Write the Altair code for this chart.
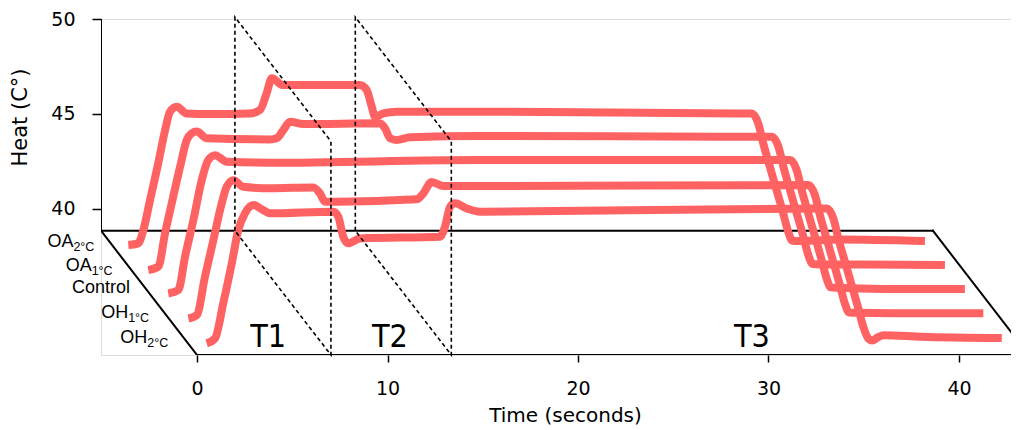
import altair as alt
import pandas as pd

# ---------------- data ----------------
SERIES = ["OA2", "OA1", "Control", "OH1", "OH2"]
DEPTH = [0.1, 0.3, 0.5, 0.7, 0.9]          # position across the floor (back -> front)

OA2_T = [0.93, 1.45, 1.72, 2.07, 2.50, 2.86, 3.12, 3.47, 3.99, 5.22,
         7.32, 7.84, 8.19, 8.46, 9.05, 10.82, 13.09, 13.44, 13.71, 13.88,
         14.32, 15.02, 19.39, 33.04, 33.65, 34.00, 34.26, 34.61, 34.96, 35.31,
         35.57, 35.79, 36.19, 38.29, 42.75]
OA2_H = [38.74, 38.83, 39.53, 41.11, 43.05, 44.80, 45.77, 46.03, 45.68, 45.65,
         45.68, 45.86, 46.74, 47.53, 47.17, 47.17, 47.17, 46.91, 46.03, 45.50,
         45.68, 45.77, 45.77, 45.68, 45.68, 45.15, 44.10, 42.86, 41.64, 40.41,
         39.44, 38.97, 38.95, 39.03, 38.95]

OA1_T = [0.97, 1.50, 1.85, 2.20, 2.64, 2.99, 3.25, 3.51, 4.04, 7.36,
         7.71, 8.06, 8.41, 9.11, 13.13, 13.40, 13.66, 14.01, 14.71, 18.38,
         32.03, 33.70, 34.05, 34.31, 34.66, 35.01, 35.36, 35.62, 35.84, 36.24,
         38.50, 42.79]
OA1_H = [38.73, 38.91, 40.67, 42.25, 44.18, 45.59, 45.94, 46.03, 45.68, 45.62,
         45.68, 46.11, 46.55, 46.43, 46.47, 46.20, 45.68, 45.59, 45.73, 45.80,
         45.76, 45.76, 45.23, 44.18, 42.94, 41.72, 40.49, 39.52, 39.05, 39.03,
         39.03, 39.00]

CTRL_T = [1.01, 1.54, 1.89, 2.33, 2.77, 3.11, 3.46, 4.08, 6.35, 17.38,
          33.65, 34.00, 34.26, 34.61, 34.96, 35.31, 35.57, 35.79, 36.19, 38.50,
          42.83]
CTRL_H = [38.81, 38.99, 40.74, 42.68, 44.79, 45.84, 46.10, 45.75, 45.70, 45.84,
          45.84, 45.31, 44.26, 43.02, 41.80, 40.57, 39.60, 39.13, 39.11, 39.05,
          39.04]

OH1_T = [1.06, 1.50, 1.93, 2.37, 2.81, 3.07, 3.42, 3.94, 5.34, 7.62,
         7.97, 8.23, 8.85, 13.04, 13.39, 13.83, 14.44, 16.37, 33.60, 33.95,
         34.21, 34.56, 34.91, 35.26, 35.52, 35.74, 36.14, 38.50, 42.79]
OH1_H = [38.80, 38.98, 41.00, 42.93, 44.87, 45.74, 46.09, 45.74, 45.66, 45.71,
         45.39, 44.95, 44.95, 45.08, 45.39, 46.00, 45.78, 45.78, 45.83, 45.30,
         44.25, 43.01, 41.79, 40.56, 39.59, 39.12, 39.10, 39.08, 39.08]

OH2_T = [1.01, 1.45, 1.88, 2.33, 2.67, 3.02, 3.46, 3.98, 4.34, 7.66,
         7.92, 8.18, 8.45, 9.06, 13.26, 13.52, 13.79, 14.05, 14.66, 15.36,
         33.56, 33.91, 34.17, 34.52, 34.87, 35.22, 35.48, 35.75, 35.95, 36.25,
         36.55, 38.50, 42.75]
OH2_H = [38.80, 39.06, 40.91, 43.02, 44.77, 45.65, 46.09, 45.82, 45.65, 45.74,
         45.47, 44.42, 44.07, 44.33, 44.42, 44.94, 46.00, 46.18, 45.91, 45.74,
         45.91, 45.38, 44.33, 43.09, 41.87, 40.64, 39.67, 39.05, 38.95, 39.12,
         39.22, 39.15, 39.08]

TIMES = [OA2_T, OA1_T, CTRL_T, OH1_T, OH2_T]
HEATS = [OA2_H, OA1_H, CTRL_H, OH1_H, OH2_H]

LABEL_MAIN = ["OA", "OA", "Control", "OH", "OH"]
LABEL_SUB = ["2°C", "1°C", "", "1°C", "2°C"]
LABEL_DEPTH = [0.09, 0.28, 0.46, 0.66, 0.86]
LABEL_T = -0.8

PHASE_NAMES = ["T1", "T2", "T3"]
PHASE_LABEL_T = [3.73, 10.13, 29.13]
PHASE_LABEL_H = 39.24
PHASE_BOUNDS = [7.03, 13.35]
BOUND_TOP = 50.1

X_TICKS = [0, 10, 20, 30, 40]
Y_TICKS = [40, 45, 50]

FLOOR_H = 38.84      # heat level of the floor
T_END = 43.67        # time length of the floor
SHIFT_T = 5.04       # horizontal shift (s) from back to front of the floor
SHIFT_H = 6.55       # vertical shift (°C) from back to front of the floor
X_DOMAIN = [-5.04, 42.73]
Y_DOMAIN = [32.29, 50]

LINE_COLOR = "#FF6262"


def px(t, f):
    return t - SHIFT_T * (1 - f)


def py(h, f):
    return h - SHIFT_H * f


# ---------------- tables ----------------
rows = []
for name, f, ts, hs in zip(SERIES, DEPTH, TIMES, HEATS):
    for i, (t, h) in enumerate(zip(ts, hs)):
        rows.append({"series": name, "i": i, "X": px(t, f), "Y": py(h, f)})
lines_df = pd.DataFrame(rows)

# y-axis line and the four edges of the floor, one segment each: (t, f, h)
EDGES = [
    [(0, 0, 50), (0, 0, FLOOR_H)],
    [(0, 0, FLOOR_H), (T_END, 0, FLOOR_H)],
    [(T_END, 0, FLOOR_H), (T_END, 1, FLOOR_H)],
    [(0, 1, FLOOR_H), (T_END, 1, FLOOR_H)],
    [(0, 0, FLOOR_H), (0, 1, FLOOR_H)],
]
floor_rows = []
for g, seg in enumerate(EDGES):
    for i, (t, f, h) in enumerate(seg):
        floor_rows.append({"g": g, "i": i, "X": px(t, f), "Y": py(h, f)})
floor_df = pd.DataFrame(floor_rows)

bound_rows = []
for b, tb in enumerate(PHASE_BOUNDS):
    pts = [(0, FLOOR_H), (0, BOUND_TOP), (1, BOUND_TOP), (1, FLOOR_H), (0, FLOOR_H)]
    for i, (f, h) in enumerate(pts):
        bound_rows.append({"g": b, "i": i, "X": px(tb, f), "Y": py(h, f)})
bound_df = pd.DataFrame(bound_rows)

label_df = pd.DataFrame({
    "main": LABEL_MAIN,
    "sub": LABEL_SUB,
    "X": [px(LABEL_T, f) for f in LABEL_DEPTH],
    "Y": [py(FLOOR_H, f) for f in LABEL_DEPTH],
})

phase_df = pd.DataFrame({
    "name": PHASE_NAMES,
    "X": [px(t, 1) for t in PHASE_LABEL_T],
    "Y": [py(PHASE_LABEL_H, 1) for _ in PHASE_LABEL_T],
})

# ---------------- encodings ----------------
x_enc = alt.X(
    "X:Q",
    scale=alt.Scale(domain=X_DOMAIN, nice=False, zero=False),
    axis=alt.Axis(
        values=X_TICKS, domain=False, grid=False, tickSize=7, tickWidth=1.5,
        tickColor="black", labelFont="DejaVu Sans", labelFontSize=19,
        labelColor="black", labelPadding=17, labelFlush=False,
        title="Time (seconds)", titleFont="DejaVu Sans", titleFontSize=20,
        titleFontWeight="normal", titleColor="black", titleX=464, titleY=60,
        titleBaseline="middle", titleAlign="center",
    ),
)
y_enc = alt.Y(
    "Y:Q",
    scale=alt.Scale(domain=Y_DOMAIN, nice=False, zero=False),
    axis=alt.Axis(
        values=Y_TICKS, domain=False, grid=False, tickSize=9, tickWidth=1.5,
        tickColor="black", labelFont="DejaVu Sans", labelFontSize=19,
        labelColor="black", labelPadding=17, labelFlush=False,
        title="Heat (C°)", titleFont="DejaVu Sans", titleFontSize=21,
        titleFontWeight="normal", titleColor="black", titleX=-81, titleY=98,
        titleBaseline="middle", titleAlign="center",
    ),
)

floor = alt.Chart(floor_df).mark_line(
    color="black", strokeWidth=2, strokeCap="square", clip=True
).encode(x=x_enc, y=y_enc, detail="g:N", order="i:Q")

lines = alt.Chart(lines_df).mark_line(
    color=LINE_COLOR, strokeWidth=8, interpolate="monotone",
    strokeCap="butt", strokeJoin="round"
).encode(x=x_enc, y=y_enc, detail="series:N", order="i:Q")

bounds = alt.Chart(bound_df).mark_line(
    color="black", strokeWidth=1.6, strokeDash=[4, 3]
).encode(x=x_enc, y=y_enc, detail="g:N", order="i:Q")

main_labels = alt.Chart(label_df).transform_filter(
    "datum.sub != ''"
).mark_text(
    align="right", baseline="middle", font="Liberation Sans", fontSize=18,
    color="black", dx=-21
).encode(x=x_enc, y=y_enc, text="main:N")

sub_labels = alt.Chart(label_df).transform_filter(
    "datum.sub != ''"
).mark_text(
    align="right", baseline="middle", font="Liberation Sans", fontSize=12.5,
    color="black", dy=5
).encode(x=x_enc, y=y_enc, text="sub:N")

plain_labels = alt.Chart(label_df).transform_filter(
    "datum.sub == ''"
).mark_text(
    align="right", baseline="middle", font="Liberation Sans", fontSize=18,
    color="black"
).encode(x=x_enc, y=y_enc, text="main:N")

phase_labels = alt.Chart(phase_df).mark_text(
    align="center", baseline="alphabetic",
    font="Liberation Sans Narrow, DejaVu Sans Condensed, sans-serif",
    fontSize=32, color="black"
).encode(x=x_enc, y=y_enc, text="name:N")

chart = alt.layer(
    floor, lines, bounds, main_labels, sub_labels, plain_labels, phase_labels
).properties(
    width=910, height=336,
    autosize=alt.AutoSizeParams(type="none"),
    padding={"left": 93, "top": 11, "right": 0, "bottom": 73},
).configure_view(strokeWidth=0, stroke=None).configure_axis(
    domain=False
).configure(background="white")

chart.save("out.html", embed_options={"renderer": "svg", "actions": False})
